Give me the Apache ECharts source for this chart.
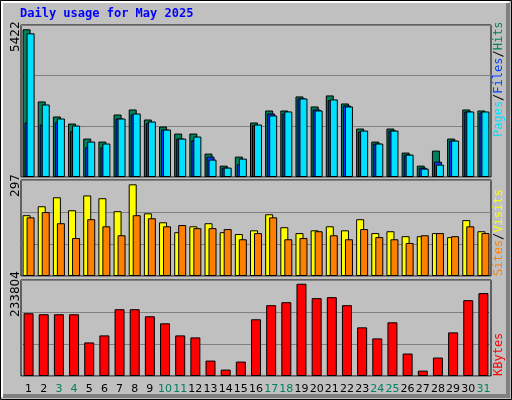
<!DOCTYPE html>
<html>
<head>
<meta charset="utf-8">
<script src="https://cdn.jsdelivr.net/npm/echarts@6/dist/echarts.min.js"></script>
<style>html,body{margin:0;padding:0;background:#C0C0C0}#chart{width:512px;height:400px}</style>
</head>
<body>
<div id="chart"></div>
<script>
var days = ['1','2','3','4','5','6','7','8','9','10','11','12','13','14','15','16','17','18','19','20','21','22','23','24','25','26','27','28','29','30','31'];
var weekend = ['3','4','10','11','17','18','24','25','31'];
var hits  = [5422,2773,2221,1963,1411,1300,2294,2478,2110,1853,1595,1595,859,417,748,2000,2441,2441,2957,2589,2994,2699,1779,1300,1779,896,417,969,1411,2478,2441];
var files = [2000,1926,2012,1681,1092,1092,2147,2307,1975,1742,1411,1350,748,344,466,1902,2331,2331,2883,2478,2822,2625,1668,1227,1705,822,344,564,1337,2405,2368];
var pages = [5275,2662,2147,1889,1300,1227,2147,2331,2037,1742,1411,1485,638,344,675,1926,2258,2405,2883,2442,2847,2589,1705,1227,1705,822,307,454,1337,2405,2405];
var visits = [197,226,255,213,261,252,210,297,203,174,142,161,171,142,136,148,200,158,139,148,161,148,184,139,145,129,129,139,126,181,145];
var sites  = [190,207,171,123,184,161,132,197,187,161,165,155,155,152,119,139,190,119,123,145,132,119,152,126,119,107,132,139,129,161,139];
var kbytes = [158987,156437,156437,156437,85020,102874,169190,169190,151336,133481,102874,97773,39109,16154,36559,143684,179393,187044,233804,197247,199798,179393,123278,95223,136032,56963,13603,46761,110526,192145,210000];

var chart = echarts.init(document.getElementById('chart'));
var grids = [
  { left: 21, right: 21, top: 25, height: 152 },
  { left: 21, right: 21, top: 180, height: 96 },
  { left: 21, right: 21, top: 280, height: 96 }
];
var maxes = [5580, 311, 243240];
var edge = { color: '#000', borderColor: '#000', borderWidth: 1 };

function yAx(i) {
  return { gridIndex: i, min: 0, max: maxes[i], interval: maxes[i] / 3,
    axisLabel: { show: false }, axisLine: { show: false }, axisTick: { show: false },
    splitLine: { show: true, lineStyle: { color: '#808080', width: 1 } } };
}
function xAx(i) {
  return { type: 'category', gridIndex: i, data: days,
    axisLine: { show: false }, axisTick: { show: false },
    axisLabel: i === 2 ? { show: true, fontFamily: 'DejaVu Sans', fontSize: 11, margin: 8, interval: 0,
      color: function (v) { return weekend.indexOf(v) >= 0 ? '#00805C' : '#000'; } } : { show: false } };
}
function bar(name, data, i, color, width, gap) {
  return { type: 'bar', name: name, data: data, xAxisIndex: i, yAxisIndex: i, barWidth: width, barGap: gap,
    itemStyle: { color: color, borderColor: '#000', borderWidth: 1 }, animation: false, silent: true };
}

chart.setOption({
  backgroundColor: '#C0C0C0',
  grid: grids.map(function (g) { return Object.assign({ show: true, borderColor: '#000', borderWidth: 1 }, g); }),
  xAxis: [xAx(0), xAx(1), xAx(2)],
  yAxis: [yAx(0), yAx(1), yAx(2)],
  series: [
    bar('Hits', hits, 0, '#00805C', 8, '-75%'),
    bar('Files', files, 0, '#0040FF', 8, '-75%'),
    bar('Pages', pages, 0, '#00E0FF', 8, '-75%'),
    bar('Visits', visits, 1, '#FFFF00', 8, '-50%'),
    bar('Sites', sites, 1, '#FF8000', 8, '-50%'),
    bar('KBytes', kbytes, 2, '#FF0000', 10, '0%')
  ],
  graphic: [
    { type: 'rect', shape: { x: 0.5, y: 0.5, width: 511, height: 399 }, style: { fill: null, stroke: '#000', lineWidth: 1 }, z: 100 },
    { type: 'polyline', shape: { points: [[2, 397], [2, 2], [509, 2]] }, style: { stroke: '#fff', lineWidth: 2, fill: null }, z: 100 },
    { type: 'polyline', shape: { points: [[3, 396], [508, 396], [508, 3]] }, style: { stroke: '#808080', lineWidth: 4, fill: null }, z: 100 },
    { type: 'text', left: 20, top: 8, style: { text: 'Daily usage for May 2025', fill: '#0000FF', font: 'bold 12px "DejaVu Sans Mono"' } },
    { type: 'text', x: 10, y: 52, rotation: Math.PI / 2, style: { text: '5422', fill: '#000', font: '12px "DejaVu Sans"' } },
    { type: 'text', x: 10, y: 197, rotation: Math.PI / 2, style: { text: '297', fill: '#000', font: '12px "DejaVu Sans"' } },
    { type: 'text', x: 10, y: 317, rotation: Math.PI / 2, style: { text: '233804', fill: '#000', font: '12px "DejaVu Sans"' } },
    { type: 'text', x: 493, y: 137, rotation: Math.PI / 2, style: {
      text: '{p|Pages}{s|/}{f|Files}{s|/}{h|Hits}', font: '12px "DejaVu Sans Mono"',
      rich: { p: { fill: '#00E0FF', font: '12px "DejaVu Sans Mono"' }, f: { fill: '#0040FF', font: '12px "DejaVu Sans Mono"' },
        h: { fill: '#00805C', font: '12px "DejaVu Sans Mono"' }, s: { fill: '#000', font: '12px "DejaVu Sans Mono"' } } } },
    { type: 'text', x: 493, y: 276, rotation: Math.PI / 2, style: {
      text: '{o|Sites}{s|/}{y|Visits}', font: '12px "DejaVu Sans Mono"',
      rich: { o: { fill: '#FF8000', font: '12px "DejaVu Sans Mono"' }, y: { fill: '#FFFF00', font: '12px "DejaVu Sans Mono"' },
        s: { fill: '#000', font: '12px "DejaVu Sans Mono"' } } } },
    { type: 'text', x: 493, y: 376, rotation: Math.PI / 2, style: { text: 'KBytes', fill: '#FF0000', font: '12px "DejaVu Sans Mono"' } }
  ]
});
</script>
</body>
</html>
